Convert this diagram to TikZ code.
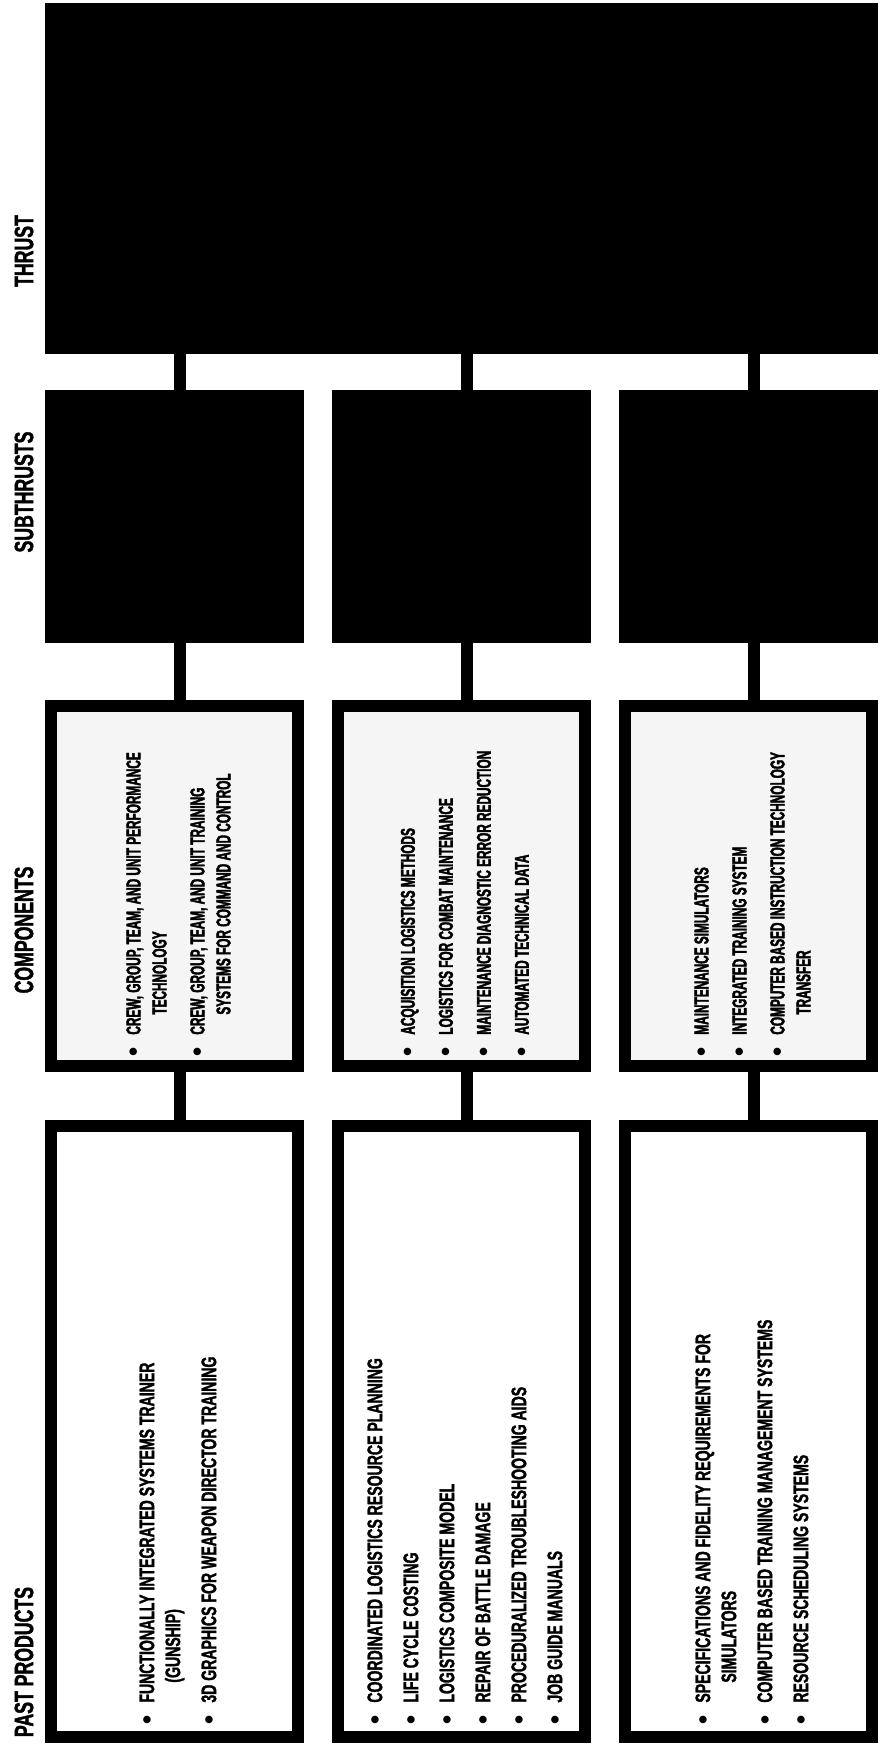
\documentclass[tikz,border=0pt]{standalone}
\usepackage{fontspec}
\setmainfont{Liberation Sans}
\newfontfamily\heavy{Liberation Sans}[FakeStretch=0.67,FakeBold=1.5]
\newfontfamily\compheavy{Liberation Sans}[FakeStretch=0.59,FakeBold=2]
\newfontfamily\dotfont{Liberation Sans}
\usetikzlibrary{shapes.misc,calc}
\definecolor{compgray}{HTML}{F5F5F5}
\newcommand{\itm}{\makebox[11pt][l]{{\dotfont\fontsize{13}{13}\selectfont\raisebox{-0.7pt}{\textbullet}}}}
\newcommand{\cont}{\hspace*{21pt}}

\begin{document}
\begin{tikzpicture}[x=0.5pt,y=-0.5pt,
  box/.style={chamfered rectangle,chamfered rectangle corners={north east,south west},chamfered rectangle xsep=5pt,draw,line width=6pt,inner sep=0pt,outer sep=0pt,minimum width=123.5pt},
  dark/.style={box,fill=black,minimum height=120.5pt},
  comp/.style={box,fill=compgray,minimum height=180pt},
  past/.style={box,fill=white,minimum height=305.5pt},
  items/.style={rotate=90,anchor=west,align=left,inner sep=0pt,font=\heavy\bfseries\fontsize{10.5}{13}\selectfont},
  compitems/.style={items,font=\compheavy\bfseries\fontsize{10}{13}\selectfont},
  head/.style={rotate=90,inner sep=0pt,font=\heavy\bfseries\fontsize{13.2}{14}\selectfont},
  link/.style={line width=6pt}]
  \useasboundingbox (0,0) rectangle (879,1746);
  \node[box,fill=black,minimum width=410.5pt,minimum height=169.5pt] (thrust) at (461.5,178.5) {};
  \node[dark] (s1) at (174.5,516.5) {};
  \node[dark] (s2) at (461.5,516.5) {};
  \node[dark] (s3) at (748.5,516.5) {};
  \node[comp] (c1) at (174.5,886) {};
  \node[comp] (c2) at (461.5,886) {};
  \node[comp] (c3) at (748.5,886) {};
  \node[past] (p1) at (174.5,1431.5) {};
  \node[past] (p2) at (461.5,1431.5) {};
  \node[past] (p3) at (748.5,1431.5) {};
  \draw[link] ([xshift=2.5pt]s1.north |- thrust.south) -- ([xshift=2.5pt]s1.north);
  \draw[link] ([xshift=2.5pt]s2.north |- thrust.south) -- ([xshift=2.5pt]s2.north);
  \draw[link] ([xshift=2.5pt]s3.north |- thrust.south) -- ([xshift=2.5pt]s3.north);
  \draw[link] ([xshift=2.5pt]s1.south) -- ([xshift=2.5pt]c1.north);
  \draw[link] ([xshift=2.5pt]s2.south) -- ([xshift=2.5pt]c2.north);
  \draw[link] ([xshift=2.5pt]s3.south) -- ([xshift=2.5pt]c3.north);
  \draw[link] ([xshift=2.5pt]c1.south) -- ([xshift=2.5pt]p1.north);
  \draw[link] ([xshift=2.5pt]c2.south) -- ([xshift=2.5pt]p2.north);
  \draw[link] ([xshift=2.5pt]c3.south) -- ([xshift=2.5pt]p3.north);
  \node[head] (hthrust) at (24,251) {THRUST};
  \node[head] (hsub) at (24,492) {SUBTHRUSTS};
  \node[head] (hcomp) at (24,930) {COMPONENTS};
  \node[head] (hpast) at (24,1662) {PAST PRODUCTS};
  \node[compitems] (c1t) at ($(c1.south)+(4,-9)$) {\itm CREW, GROUP, TEAM, AND UNIT PERFORMANCE\\\cont TECHNOLOGY\\[6pt]\itm CREW, GROUP, TEAM, AND UNIT TRAINING\\\cont SYSTEMS FOR COMMAND AND CONTROL};
  \node[compitems] (c2t) at ($(c2.south)+(4,-9)$) {\itm ACQUISITION LOGISTICS METHODS\\[6pt]\itm LOGISTICS FOR COMBAT MAINTENANCE\\[6pt]\itm MAINTENANCE DIAGNOSTIC ERROR REDUCTION\\[6pt]\itm AUTOMATED TECHNICAL DATA};
  \node[compitems] (c3t) at ($(c3.south)+(4,-9)$) {\itm MAINTENANCE SIMULATORS\\[6pt]\itm INTEGRATED TRAINING SYSTEM\\[6pt]\itm COMPUTER BASED INSTRUCTION TECHNOLOGY\\\cont TRANSFER};
  \node[items] (p1t) at ($(p1.south)+(4,-12)$) {\itm FUNCTIONALLY INTEGRATED SYSTEMS TRAINER\\\cont(GUNSHIP)\\[5pt]\itm 3D GRAPHICS FOR WEAPON DIRECTOR TRAINING};
  \node[items] (p2t) at ($(p2.south)+(4,-12)$) {\itm COORDINATED LOGISTICS RESOURCE PLANNING\\[5pt]\itm LIFE CYCLE COSTING\\[5pt]\itm LOGISTICS COMPOSITE MODEL\\[5pt]\itm REPAIR OF BATTLE DAMAGE\\[5pt]\itm PROCEDURALIZED TROUBLESHOOTING AIDS\\[5pt]\itm JOB GUIDE MANUALS};
  \node[items] (p3t) at ($(p3.south)+(4,-12)$) {\itm SPECIFICATIONS AND FIDELITY REQUIREMENTS FOR\\\cont SIMULATORS\\[5pt]\itm COMPUTER BASED TRAINING MANAGEMENT SYSTEMS\\[5pt]\itm RESOURCE SCHEDULING SYSTEMS};
\end{tikzpicture}
\end{document}
